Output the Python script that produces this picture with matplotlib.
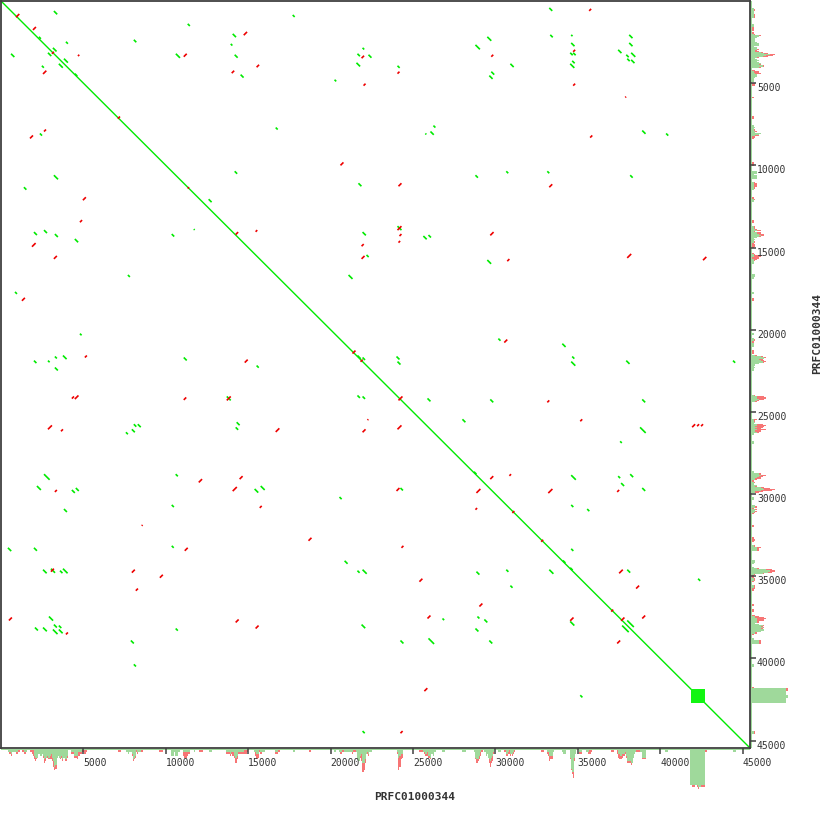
import numpy as np
import matplotlib
matplotlib.use('Agg')
import matplotlib.pyplot as plt
from matplotlib.collections import LineCollection
from matplotlib.patches import Rectangle

# sequence plotted against itself
seq_name = 'PRFC01000344'
seq_len = 45450
tick_values = [5000, 10000, 15000, 20000, 25000, 30000, 35000, 40000, 45000]

# tandem repeat block (filled square on the diagonal)
tandem_start = 41850
tandem_end = 42700
tandem_depth = 19

# forward hits: (x start, y start, length) in bp
forward_hits = [
    (33270, 420, 180), (29510, 2180, 240), (33330, 2060, 150), (34600, 2060, 80),
    (38120, 2060, 200), (28790, 2670, 270), (34600, 2550, 200), (38120, 2550, 200),
    (37450, 2970, 200), (34540, 3150, 150), (34720, 3150, 150), (37940, 3270, 150),
    (38240, 3150, 250), (38000, 3510, 150), (38240, 3580, 200), (34660, 3640, 150),
    (34540, 3820, 250), (24060, 3940, 130), (30910, 3820, 200), (29750, 4300, 180),
    (29630, 4540, 200), (26240, 7580, 120), (25750, 8060, 60), (26060, 7940, 200),
    (38910, 7880, 200), (40360, 8060, 130), (28790, 10600, 150), (30660, 10360, 120),
    (33150, 10360, 120), (38180, 10600, 150), (24060, 13700, 240), (25630, 14300, 200),
    (25940, 14240, 150), (29510, 15760, 230), (30180, 20540, 130), (34060, 20850, 200),
    (24000, 21630, 180), (24060, 21940, 180), (34660, 21630, 130), (34600, 21940, 250),
    (37940, 21880, 200), (44420, 21880, 130),
    (3210, 610, 200), (17700, 850, 120), (11330, 1390, 130), (14060, 2000, 200),
    (3940, 2480, 120), (8060, 2360, 150), (13940, 2610, 100), (10610, 3210, 250),
    (14180, 3270, 180), (21940, 2850, 100), (21630, 3210, 150), (22300, 3270, 180),
    (21570, 3760, 220), (14540, 4480, 180), (20240, 4790, 100), (16670, 7700, 120),
    (14180, 10360, 150), (21690, 11090, 180), (12600, 12060, 180), (21940, 14060, 200),
    (22180, 15450, 130), (21090, 16670, 240), (3150, 2850, 220), (3820, 3510, 240),
    (2300, 2180, 120), (21630, 21570, 200), (21940, 21690, 150),
    (610, 3210, 200), (2480, 3940, 120), (2850, 3150, 200), (3510, 3820, 240),
    (2360, 8060, 130), (3210, 10600, 250), (1390, 11330, 150), (2000, 14060, 180),
    (2610, 13940, 180), (3270, 14180, 180), (4480, 14480, 200), (10360, 14180, 150),
    (11700, 13880, 50), (7700, 16670, 120), (850, 17700, 120), (4790, 20240, 100),
    (2000, 21880, 150), (2850, 21880, 100), (3270, 21630, 120), (3760, 21570, 220),
    (3270, 22300, 180), (11090, 21690, 180), (15510, 22180, 130),
    (25880, 24180, 180), (29690, 24240, 180), (38910, 24240, 180), (28000, 25450, 180),
    (38780, 25940, 340), (37570, 26790, 100), (34600, 28850, 280), (37450, 28910, 120),
    (38180, 28790, 180), (37630, 29330, 180), (38910, 29630, 180), (34600, 30660, 130),
    (35570, 30910, 130), (34600, 33330, 130), (38000, 34600, 180), (42300, 35150, 130),
    (38000, 37690, 400),
    (24240, 29630, 150), (33270, 34600, 250), (30660, 34600, 130), (28850, 34720, 180),
    (30910, 35570, 130), (26790, 37570, 100), (28910, 37450, 120), (29330, 37630, 180),
    (28790, 38180, 180), (34540, 37750, 250), (37690, 38000, 400), (24240, 38910, 180),
    (25940, 38780, 340), (29630, 38910, 180), (35150, 42240, 130),
    (21630, 24000, 150), (21940, 24060, 150), (13700, 24060, 240), (8060, 25750, 150),
    (8300, 25750, 180), (7580, 26240, 120), (7940, 26060, 180), (14300, 25630, 180),
    (14240, 25940, 150), (2610, 28790, 340), (10600, 28790, 130), (2180, 29510, 240),
    (4300, 29750, 180), (4540, 29630, 180), (15390, 29690, 220), (15760, 29510, 240),
    (20540, 30180, 130), (3820, 30910, 180), (10360, 30660, 130), (420, 33270, 200),
    (2000, 33270, 180), (10360, 33150, 120), (20850, 34060, 180), (2550, 34600, 220),
    (3030, 34540, 250), (3580, 34660, 150), (3760, 34540, 280), (21630, 34660, 130),
    (21940, 34600, 250), (2910, 37450, 250), (2060, 38120, 180), (2550, 38120, 230),
    (3210, 37940, 180), (3510, 38000, 150), (3150, 38240, 280), (3510, 38240, 230),
    (10600, 38180, 130), (21880, 37940, 220), (7880, 38910, 180), (8060, 40360, 130),
    (21940, 44420, 130),
    (4480, 4420, 150), (28700, 28640, 150), (34100, 34040, 150), (34540, 34480, 150),
]

# reverse hits: (x start, y start, length) in bp, drawn against the diagonal
reverse_hits = [
    (35690, 480, 120), (34720, 2970, 120), (29750, 3270, 120), (24060, 4300, 120),
    (34720, 5030, 120), (37880, 5820, 50), (35750, 8180, 130), (24120, 11090, 180),
    (33270, 11150, 180), (24060, 13700, 240), (24180, 14180, 120), (24120, 14600, 100),
    (29690, 14060, 200), (30720, 15700, 130), (38000, 15390, 240), (42600, 15570, 200),
    (30540, 20600, 180),
    (1940, 1580, 180), (14730, 1880, 200), (4670, 3270, 80), (11090, 3210, 180),
    (21880, 3330, 150), (15510, 3880, 150), (14000, 4240, 150), (22000, 5030, 120),
    (20600, 9820, 180), (15450, 13940, 100), (21880, 14790, 130), (21880, 15510, 180),
    (910, 790, 200), (3090, 3090, 120), (7090, 7030, 130), (11330, 11330, 80),
    (14240, 14060, 150), (21330, 21270, 180), (21820, 21820, 130),
    (2550, 4240, 200), (2610, 7820, 120), (1760, 8180, 180), (4970, 11940, 180),
    (4790, 13330, 130), (1880, 14730, 220), (3210, 15510, 180), (1270, 18060, 180),
    (5090, 21570, 120), (14790, 21820, 180),
    (33150, 24300, 120), (35150, 25450, 120), (41940, 25750, 180), (42240, 25750, 120),
    (42480, 25750, 120), (29690, 28910, 180), (30850, 28790, 100), (37390, 29750, 120),
    (33210, 29690, 250), (37510, 34600, 220), (38540, 35570, 180), (38910, 37390, 180),
    (37630, 37510, 200), (24120, 24060, 240), (31030, 31030, 120), (32780, 32780, 120),
    (37030, 37030, 120),
    (24060, 25820, 240), (24000, 29630, 180), (28850, 29690, 240), (28790, 30850, 100),
    (24300, 33150, 120), (25390, 35150, 180), (29030, 36660, 180), (25880, 37390, 180),
    (34540, 37510, 200), (37390, 38910, 180), (25690, 41810, 180), (24240, 44420, 130),
    (4300, 24060, 130), (4480, 24000, 220), (11090, 24120, 150), (13700, 24060, 240),
    (2850, 25820, 240), (3640, 26060, 120), (16670, 26000, 220), (22240, 25450, 50),
    (21940, 26060, 180), (12000, 29090, 200), (14480, 28910, 180), (3270, 29750, 120),
    (14060, 29570, 250), (15700, 30720, 120), (8540, 31880, 50), (18660, 32660, 180),
    (11150, 33270, 180), (3030, 34540, 180), (7940, 34600, 180), (9640, 34910, 180),
    (8180, 35750, 130), (480, 37510, 180), (3940, 38420, 120), (14240, 37630, 180),
    (15450, 38000, 180),
]

GREEN = '#00ea00'
RED = '#ee0000'
HIST_GREEN = '#9fd99b'
HIST_RED = '#f77575'
AXIS_GREY = '#404040'
TEXT_GREY = '#333333'
MONO = 'DejaVu Sans Mono'

W = H = 830  # figure size in pixels


def coverage(hits, axis, edges):
    # number of hits whose span overlaps each bin
    cov = np.zeros(len(edges) - 1)
    for h in hits:
        start, end = h[axis], h[axis] + h[2]
        cov[(edges[1:] > start) & (edges[:-1] < end)] += 1
    return cov


bin_w = 60
edges = np.arange(0, seq_len + bin_w, bin_w)
centers = (edges[:-1] + edges[1:]) / 2
in_block = (centers >= tandem_start) & (centers <= tandem_end)

self_hit = [(0, 0, seq_len)]
green_x = coverage(forward_hits + self_hit, 0, edges) + tandem_depth * in_block
green_y = coverage(forward_hits + self_hit, 1, edges) + tandem_depth * in_block
red_x = coverage(reverse_hits, 0, edges)
red_y = coverage(reverse_hits, 1, edges)

fig = plt.figure(figsize=(W / 100, H / 100), dpi=100)

# coverage histograms below and to the right (about 1.8 px per hit)
hist_depth = 43 / 1.8
axb = fig.add_axes([1 / W, 1 - 792 / H, 749 / W, 43.5 / H])
axb.bar(centers, green_x, width=bin_w, color=HIST_GREEN, linewidth=0)
axb.bar(centers, red_x, width=bin_w, bottom=green_x, color=HIST_RED, linewidth=0)
axb.set_xlim(0, seq_len)
axb.set_ylim(hist_depth, 0)
axb.axis('off')

axr = fig.add_axes([750 / W, 1 - 748 / H, 43 / W, 747 / H])
axr.barh(centers, green_y, height=bin_w, color=HIST_GREEN, linewidth=0)
axr.barh(centers, red_y, height=bin_w, left=green_y, color=HIST_RED, linewidth=0)
axr.set_ylim(seq_len, 0)
axr.set_xlim(0, hist_depth)
axr.axis('off')

# main dot plot
ax = fig.add_axes([1 / W, 1 - 748 / H, 749 / W, 747 / H])
ax.set_zorder(3)
ax.set_xlim(0, seq_len)
ax.set_ylim(seq_len, 0)

ax.plot([0, seq_len], [0, seq_len], color=GREEN, lw=1.0, zorder=2)
ax.add_patch(Rectangle((tandem_start, tandem_start), tandem_end - tandem_start,
                       tandem_end - tandem_start, facecolor='#12f512',
                       edgecolor='none', zorder=2))

fwd = [[(x, y), (x + n, y + n)] for x, y, n in forward_hits]
rev = [[(x, y + n), (x + n, y)] for x, y, n in reverse_hits]
ax.add_collection(LineCollection(fwd, colors=GREEN, linewidths=1.2,
                                 capstyle='butt', zorder=3))
ax.add_collection(LineCollection(rev, colors=RED, linewidths=1.2,
                                 capstyle='butt', zorder=4))

for side in ['top', 'bottom', 'left', 'right']:
    ax.spines[side].set_color(AXIS_GREY)
    ax.spines[side].set_linewidth(1.3)

ax.xaxis.set_ticks_position('bottom')
ax.yaxis.set_ticks_position('right')
ax.set_xticks(tick_values)
ax.set_yticks(tick_values)
ax.set_xticklabels([str(t) for t in tick_values], ha='left')
ax.set_yticklabels([str(t) for t in tick_values], va='top')
ax.tick_params(axis='x', direction='out', length=4, width=1.1, color=AXIS_GREY,
               labelsize=7, labelcolor=TEXT_GREY, pad=3)
ax.tick_params(axis='y', direction='out', length=4, width=1.1, color=AXIS_GREY,
               labelsize=7, labelcolor=TEXT_GREY, pad=1)
for lab in ax.get_xticklabels() + ax.get_yticklabels():
    lab.set_family(MONO)

fig.text(415 / W, 1 - 797 / H, seq_name, ha='center', va='center', fontsize=8,
         fontweight='bold', family=MONO, color=TEXT_GREY)
fig.text(817 / W, 1 - 333 / H, seq_name, ha='center', va='center', fontsize=8,
         fontweight='bold', family=MONO, color=TEXT_GREY, rotation=90)

fig.savefig('out.png', dpi=100)
plt.close(fig)
